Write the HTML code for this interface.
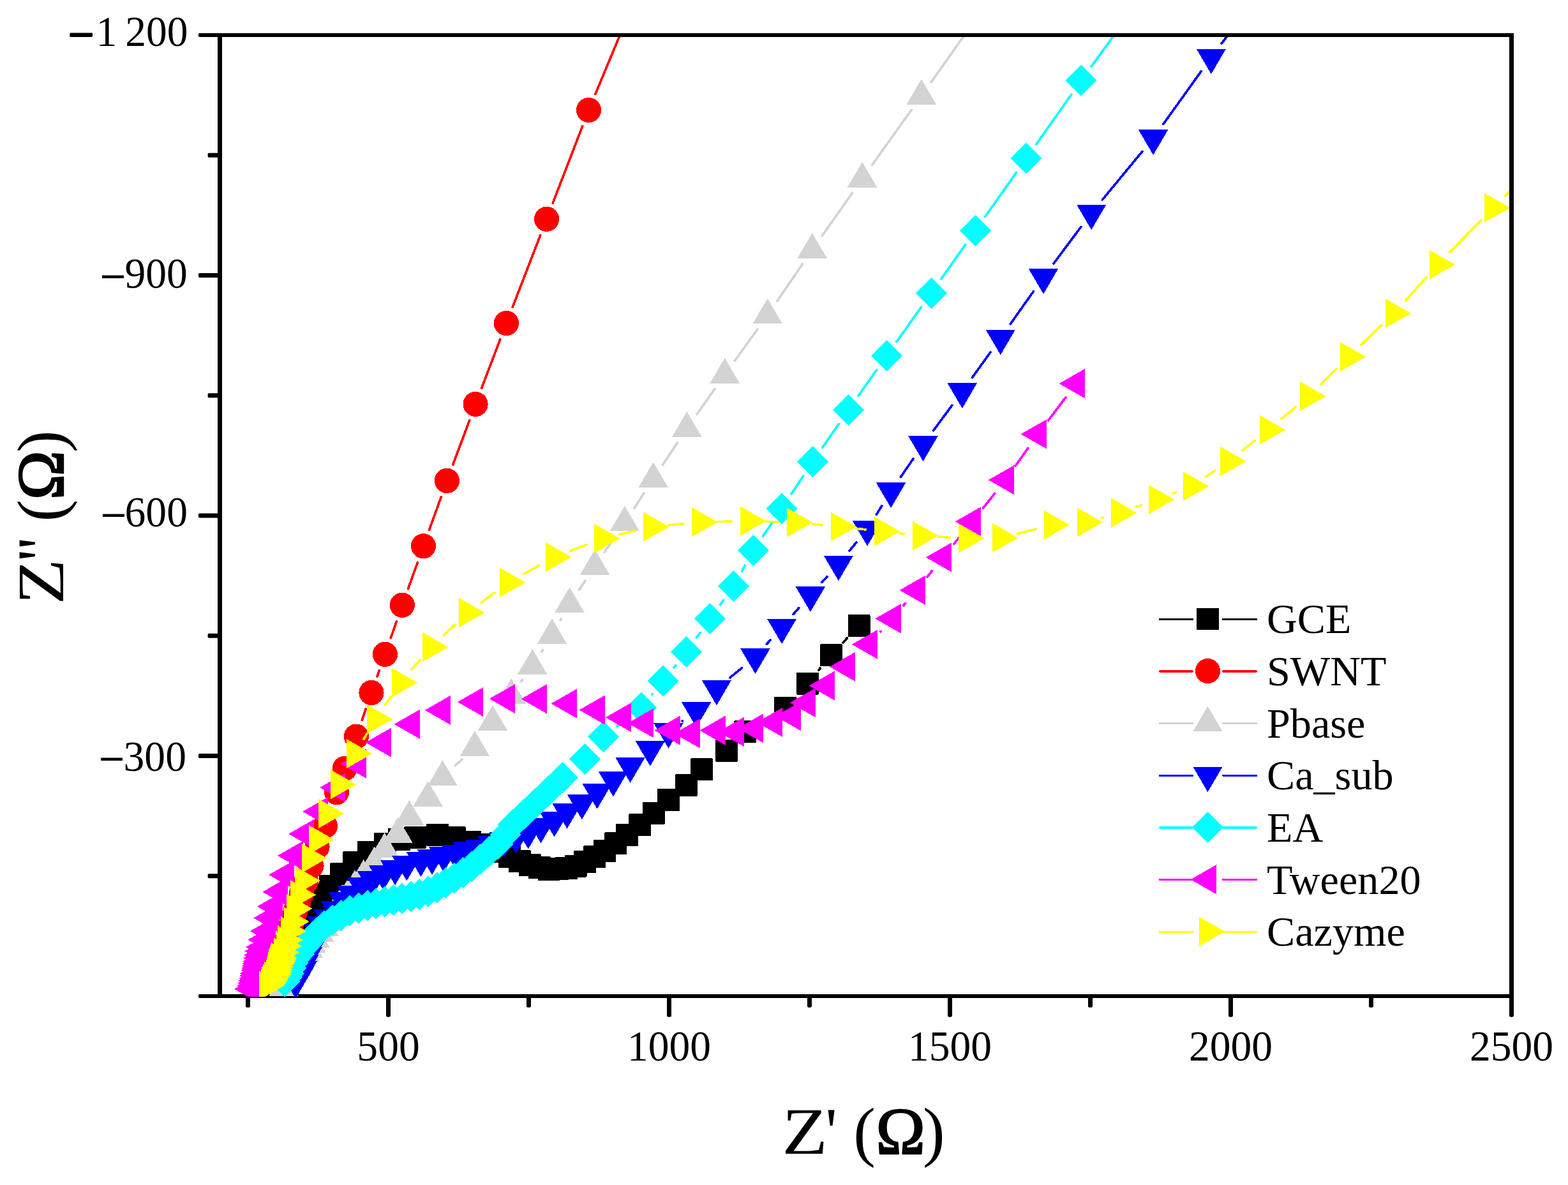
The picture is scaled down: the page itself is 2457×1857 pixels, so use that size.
<!DOCTYPE html>
<html lang="en"><head><meta charset="utf-8"><title>Nyquist plot</title>
<style>
html,body{margin:0;padding:0;background:#fff;}
body{width:2457px;height:1857px;overflow:hidden;}
svg{display:block;}
text{font-family:'Liberation Serif', serif;fill:#000;}
.tk{font-size:66.2px;}
.tt{font-size:104px;}
</style></head><body>
<svg width="2457" height="1857" viewBox="0 0 2457 1857">
<rect x="0" y="0" width="2457" height="1857" fill="#fff"/>
<defs><clipPath id="plot"><rect x="344.5" y="58.0" width="2024.0" height="1504.0"/></clipPath></defs>

<g><rect x="341.00" y="1558.00" width="2031.00" height="6.0" fill="#000"/>
<rect x="341.00" y="52.00" width="7.0" height="1512.00" fill="#000"/>
<rect x="311.00" y="52.00" width="33.50" height="6.0" rx="1.8" fill="#000"/>
<rect x="311.00" y="428.00" width="33.50" height="7.0" rx="1.8" fill="#000"/>
<rect x="311.00" y="804.50" width="33.50" height="7.0" rx="1.8" fill="#000"/>
<rect x="311.00" y="1181.00" width="33.50" height="7.0" rx="1.8" fill="#000"/>
<rect x="311.00" y="1558.00" width="33.50" height="6.0" rx="1.8" fill="#000"/>
<rect x="325.60" y="239.75" width="18.90" height="7.0" rx="1.8" fill="#000"/>
<rect x="325.60" y="616.25" width="18.90" height="7.0" rx="1.8" fill="#000"/>
<rect x="325.60" y="992.75" width="18.90" height="7.0" rx="1.8" fill="#000"/>
<rect x="325.60" y="1369.25" width="18.90" height="7.0" rx="1.8" fill="#000"/>
<rect x="605.00" y="1561.00" width="7.0" height="32.70" rx="2.6" fill="#000"/>
<rect x="1045.00" y="1561.00" width="7.0" height="32.70" rx="2.6" fill="#000"/>
<rect x="1485.00" y="1561.00" width="7.0" height="32.70" rx="2.6" fill="#000"/>
<rect x="1925.00" y="1561.00" width="7.0" height="32.70" rx="2.6" fill="#000"/>
<rect x="2365.00" y="1561.00" width="7.0" height="32.70" rx="2.6" fill="#000"/>
<rect x="385.00" y="1561.00" width="7.0" height="17.80" rx="2.6" fill="#000"/>
<rect x="825.00" y="1561.00" width="7.0" height="17.80" rx="2.6" fill="#000"/>
<rect x="1265.00" y="1561.00" width="7.0" height="17.80" rx="2.6" fill="#000"/>
<rect x="1705.00" y="1561.00" width="7.0" height="17.80" rx="2.6" fill="#000"/>
<rect x="2145.00" y="1561.00" width="7.0" height="17.80" rx="2.6" fill="#000"/></g>
<g clip-path="url(#plot)" shape-rendering="crispEdges">
<g>
<path d="M1190.6 1132.7L1207.2 1123.0M1282.8 1050.1L1285.3 1047.1M1321.1 1006.8L1327.5 1000.0" stroke="#000000" stroke-width="3.7" stroke-linecap="round" fill="none"/>
<rect x="422.5" y="1538.9" width="35.0" height="35.0" rx="1.5" fill="#000000"/>
<rect x="425.5" y="1527.9" width="35.0" height="35.0" rx="1.5" fill="#000000"/>
<rect x="428.5" y="1516.9" width="35.0" height="35.0" rx="1.5" fill="#000000"/>
<rect x="431.5" y="1505.9" width="35.0" height="35.0" rx="1.5" fill="#000000"/>
<rect x="435.5" y="1494.9" width="35.0" height="35.0" rx="1.5" fill="#000000"/>
<rect x="439.5" y="1483.9" width="35.0" height="35.0" rx="1.5" fill="#000000"/>
<rect x="443.5" y="1472.9" width="35.0" height="35.0" rx="1.5" fill="#000000"/>
<rect x="448.5" y="1460.9" width="35.0" height="35.0" rx="1.5" fill="#000000"/>
<rect x="453.5" y="1448.9" width="35.0" height="35.0" rx="1.5" fill="#000000"/>
<rect x="459.5" y="1435.9" width="35.0" height="35.0" rx="1.5" fill="#000000"/>
<rect x="465.5" y="1422.9" width="35.0" height="35.0" rx="1.5" fill="#000000"/>
<rect x="472.5" y="1409.9" width="35.0" height="35.0" rx="1.5" fill="#000000"/>
<rect x="480.5" y="1396.9" width="35.0" height="35.0" rx="1.5" fill="#000000"/>
<rect x="489.5" y="1383.9" width="35.0" height="35.0" rx="1.5" fill="#000000"/>
<rect x="500.0" y="1371.3" width="35.0" height="35.0" rx="1.5" fill="#000000"/>
<rect x="517.3" y="1352.0" width="35.0" height="35.0" rx="1.5" fill="#000000"/>
<rect x="537.3" y="1333.8" width="35.0" height="35.0" rx="1.5" fill="#000000"/>
<rect x="560.2" y="1317.9" width="35.0" height="35.0" rx="1.5" fill="#000000"/>
<rect x="586.1" y="1304.9" width="35.0" height="35.0" rx="1.5" fill="#000000"/>
<rect x="608.0" y="1298.1" width="35.0" height="35.0" rx="1.5" fill="#000000"/>
<rect x="633.4" y="1294.7" width="35.0" height="35.0" rx="1.5" fill="#000000"/>
<rect x="668.2" y="1290.9" width="35.0" height="35.0" rx="1.5" fill="#000000"/>
<rect x="695.0" y="1295.4" width="35.0" height="35.0" rx="1.5" fill="#000000"/>
<rect x="719.0" y="1301.9" width="35.0" height="35.0" rx="1.5" fill="#000000"/>
<rect x="734.5" y="1305.9" width="35.0" height="35.0" rx="1.5" fill="#000000"/>
<rect x="750.5" y="1311.4" width="35.0" height="35.0" rx="1.5" fill="#000000"/>
<rect x="765.5" y="1316.9" width="35.0" height="35.0" rx="1.5" fill="#000000"/>
<rect x="780.9" y="1325.2" width="35.0" height="35.0" rx="1.5" fill="#000000"/>
<rect x="797.0" y="1332.2" width="35.0" height="35.0" rx="1.5" fill="#000000"/>
<rect x="813.2" y="1338.4" width="35.0" height="35.0" rx="1.5" fill="#000000"/>
<rect x="828.0" y="1342.4" width="35.0" height="35.0" rx="1.5" fill="#000000"/>
<rect x="842.5" y="1345.2" width="35.0" height="35.0" rx="1.5" fill="#000000"/>
<rect x="856.1" y="1344.0" width="35.0" height="35.0" rx="1.5" fill="#000000"/>
<rect x="870.2" y="1342.9" width="35.0" height="35.0" rx="1.5" fill="#000000"/>
<rect x="884.5" y="1339.5" width="35.0" height="35.0" rx="1.5" fill="#000000"/>
<rect x="899.1" y="1333.1" width="35.0" height="35.0" rx="1.5" fill="#000000"/>
<rect x="914.1" y="1325.4" width="35.0" height="35.0" rx="1.5" fill="#000000"/>
<rect x="930.0" y="1316.1" width="35.0" height="35.0" rx="1.5" fill="#000000"/>
<rect x="947.0" y="1304.3" width="35.0" height="35.0" rx="1.5" fill="#000000"/>
<rect x="965.0" y="1291.1" width="35.0" height="35.0" rx="1.5" fill="#000000"/>
<rect x="985.0" y="1275.2" width="35.0" height="35.0" rx="1.5" fill="#000000"/>
<rect x="1007.0" y="1256.5" width="35.0" height="35.0" rx="1.5" fill="#000000"/>
<rect x="1030.0" y="1236.1" width="35.0" height="35.0" rx="1.5" fill="#000000"/>
<rect x="1057.7" y="1213.4" width="35.0" height="35.0" rx="1.5" fill="#000000"/>
<rect x="1082.0" y="1188.4" width="35.0" height="35.0" rx="1.5" fill="#000000"/>
<rect x="1120.9" y="1158.8" width="35.0" height="35.0" rx="1.5" fill="#000000"/>
<rect x="1149.9" y="1129.4" width="35.0" height="35.0" rx="1.5" fill="#000000"/>
<rect x="1212.9" y="1092.1" width="35.0" height="35.0" rx="1.5" fill="#000000"/>
<rect x="1248.0" y="1053.7" width="35.0" height="35.0" rx="1.5" fill="#000000"/>
<rect x="1285.1" y="1009.3" width="35.0" height="35.0" rx="1.5" fill="#000000"/>
<rect x="1328.5" y="963.3" width="35.0" height="35.0" rx="1.5" fill="#000000"/>
</g>
<g>
<path d="M518.2 1268.8L518.8 1267.2M567.2 1128.6L573.2 1111.0M591.0 1060.1L594.4 1050.7M612.3 999.8L621.4 973.8M639.4 922.9L654.4 881.2M672.6 830.4L691.3 778.7M709.8 728.0L735.7 658.7M754.7 608.2L783.8 531.7M803.2 481.3L846.8 368.5M866.3 318.1L912.8 197.6M932.9 147.5L991.3 7.3" stroke="#FF0000" stroke-width="3.7" stroke-linecap="round" fill="none"/>
<circle cx="435.5" cy="1533.0" r="19.6" fill="#FF0000"/>
<circle cx="438.0" cy="1523.0" r="19.6" fill="#FF0000"/>
<circle cx="440.5" cy="1513.0" r="19.6" fill="#FF0000"/>
<circle cx="443.0" cy="1503.0" r="19.6" fill="#FF0000"/>
<circle cx="445.5" cy="1493.0" r="19.6" fill="#FF0000"/>
<circle cx="448.0" cy="1483.0" r="19.6" fill="#FF0000"/>
<circle cx="450.5" cy="1473.0" r="19.6" fill="#FF0000"/>
<circle cx="453.0" cy="1463.0" r="19.6" fill="#FF0000"/>
<circle cx="456.0" cy="1452.0" r="19.6" fill="#FF0000"/>
<circle cx="459.5" cy="1440.0" r="19.6" fill="#FF0000"/>
<circle cx="463.0" cy="1428.0" r="19.6" fill="#FF0000"/>
<circle cx="467.5" cy="1415.0" r="19.6" fill="#FF0000"/>
<circle cx="472.5" cy="1400.0" r="19.6" fill="#FF0000"/>
<circle cx="479.5" cy="1381.8" r="19.6" fill="#FF0000"/>
<circle cx="488.0" cy="1356.8" r="19.6" fill="#FF0000"/>
<circle cx="497.0" cy="1327.3" r="19.6" fill="#FF0000"/>
<circle cx="509.5" cy="1294.3" r="19.6" fill="#FF0000"/>
<circle cx="527.5" cy="1241.7" r="19.6" fill="#FF0000"/>
<circle cx="540.2" cy="1204.3" r="19.6" fill="#FF0000"/>
<circle cx="558.4" cy="1154.1" r="19.6" fill="#FF0000"/>
<circle cx="582.0" cy="1085.5" r="19.6" fill="#FF0000"/>
<circle cx="603.4" cy="1025.3" r="19.6" fill="#FF0000"/>
<circle cx="630.3" cy="948.3" r="19.6" fill="#FF0000"/>
<circle cx="663.5" cy="855.8" r="19.6" fill="#FF0000"/>
<circle cx="700.4" cy="753.3" r="19.6" fill="#FF0000"/>
<circle cx="745.1" cy="633.4" r="19.6" fill="#FF0000"/>
<circle cx="793.4" cy="506.5" r="19.6" fill="#FF0000"/>
<circle cx="856.6" cy="343.3" r="19.6" fill="#FF0000"/>
<circle cx="922.5" cy="172.4" r="19.6" fill="#FF0000"/>
<circle cx="1001.7" cy="-17.6" r="19.6" fill="#FF0000"/>
</g>
<g>
<path d="M713.4 1199.6L724.1 1189.9M816.9 1067.7L818.6 1065.4M848.9 1020.8L850.4 1018.4M878.2 972.1L879.3 970.2M907.6 924.2L917.1 909.9M947.4 865.2L963.7 841.5M993.7 796.6L1008.9 773.2M1038.6 728.1L1061.4 693.9M1091.9 649.3L1120.1 609.4M1151.4 565.4L1187.0 515.9M1217.9 471.7L1257.5 413.8M1288.3 369.4L1335.5 302.4M1366.8 258.3L1428.1 172.4M1459.4 128.4L1534.4 22.4" stroke="#D3D3D3" stroke-width="3.7" stroke-linecap="round" fill="none"/>
<path d="M421.3 1561.2L467.7 1561.2L444.5 1521.6Z" fill="#D3D3D3"/>
<path d="M422.8 1558.2L469.2 1558.2L446.0 1518.6Z" fill="#D3D3D3"/>
<path d="M424.8 1554.7L471.2 1554.7L448.0 1515.1Z" fill="#D3D3D3"/>
<path d="M427.3 1550.2L473.7 1550.2L450.5 1510.6Z" fill="#D3D3D3"/>
<path d="M429.8 1545.2L476.2 1545.2L453.0 1505.6Z" fill="#D3D3D3"/>
<path d="M432.8 1540.2L479.2 1540.2L456.0 1500.6Z" fill="#D3D3D3"/>
<path d="M435.8 1534.7L482.2 1534.7L459.0 1495.1Z" fill="#D3D3D3"/>
<path d="M438.8 1529.2L485.2 1529.2L462.0 1489.6Z" fill="#D3D3D3"/>
<path d="M442.3 1523.2L488.7 1523.2L465.5 1483.6Z" fill="#D3D3D3"/>
<path d="M445.8 1517.2L492.2 1517.2L469.0 1477.6Z" fill="#D3D3D3"/>
<path d="M449.6 1511.3L496.0 1511.3L472.8 1471.7Z" fill="#D3D3D3"/>
<path d="M454.4 1506.7L500.8 1506.7L477.6 1467.1Z" fill="#D3D3D3"/>
<path d="M459.4 1500.8L505.8 1500.8L482.6 1461.2Z" fill="#D3D3D3"/>
<path d="M464.3 1493.0L510.7 1493.0L487.5 1453.4Z" fill="#D3D3D3"/>
<path d="M470.4 1485.1L516.8 1485.1L493.6 1445.5Z" fill="#D3D3D3"/>
<path d="M477.2 1476.2L523.6 1476.2L500.4 1436.6Z" fill="#D3D3D3"/>
<path d="M484.4 1466.7L530.8 1466.7L507.6 1427.1Z" fill="#D3D3D3"/>
<path d="M489.8 1459.2L536.2 1459.2L513.0 1419.6Z" fill="#D3D3D3"/>
<path d="M495.8 1450.7L542.2 1450.7L519.0 1411.1Z" fill="#D3D3D3"/>
<path d="M501.8 1442.7L548.2 1442.7L525.0 1403.1Z" fill="#D3D3D3"/>
<path d="M507.8 1434.7L554.2 1434.7L531.0 1395.1Z" fill="#D3D3D3"/>
<path d="M514.1 1426.7L560.5 1426.7L537.3 1387.1Z" fill="#D3D3D3"/>
<path d="M520.7 1418.8L567.1 1418.8L543.9 1379.2Z" fill="#D3D3D3"/>
<path d="M532.9 1403.0L579.3 1403.0L556.1 1363.4Z" fill="#D3D3D3"/>
<path d="M546.6 1386.4L593.0 1386.4L569.8 1346.8Z" fill="#D3D3D3"/>
<path d="M563.6 1365.9L610.0 1365.9L586.8 1326.3Z" fill="#D3D3D3"/>
<path d="M579.5 1344.3L625.9 1344.3L602.7 1304.7Z" fill="#D3D3D3"/>
<path d="M600.0 1320.5L646.4 1320.5L623.2 1280.9Z" fill="#D3D3D3"/>
<path d="M618.1 1293.7L664.5 1293.7L641.3 1254.1Z" fill="#D3D3D3"/>
<path d="M647.4 1263.6L693.8 1263.6L670.6 1224.0Z" fill="#D3D3D3"/>
<path d="M670.3 1231.0L716.7 1231.0L693.5 1191.4Z" fill="#D3D3D3"/>
<path d="M720.8 1184.9L767.2 1184.9L744.0 1145.3Z" fill="#D3D3D3"/>
<path d="M748.8 1144.8L795.2 1144.8L772.0 1105.2Z" fill="#D3D3D3"/>
<path d="M778.0 1102.8L824.4 1102.8L801.2 1063.2Z" fill="#D3D3D3"/>
<path d="M811.1 1056.7L857.5 1056.7L834.3 1017.1Z" fill="#D3D3D3"/>
<path d="M841.8 1008.9L888.2 1008.9L865.0 969.3Z" fill="#D3D3D3"/>
<path d="M869.3 959.8L915.7 959.8L892.5 920.2Z" fill="#D3D3D3"/>
<path d="M909.0 900.7L955.4 900.7L932.2 861.1Z" fill="#D3D3D3"/>
<path d="M955.7 832.4L1002.1 832.4L978.9 792.8Z" fill="#D3D3D3"/>
<path d="M1000.5 763.8L1046.9 763.8L1023.7 724.2Z" fill="#D3D3D3"/>
<path d="M1053.1 684.6L1099.5 684.6L1076.3 645.0Z" fill="#D3D3D3"/>
<path d="M1112.5 600.5L1158.9 600.5L1135.7 560.9Z" fill="#D3D3D3"/>
<path d="M1179.5 507.2L1225.9 507.2L1202.7 467.6Z" fill="#D3D3D3"/>
<path d="M1249.5 404.7L1295.9 404.7L1272.7 365.1Z" fill="#D3D3D3"/>
<path d="M1327.9 293.5L1374.3 293.5L1351.1 253.9Z" fill="#D3D3D3"/>
<path d="M1420.6 163.6L1467.0 163.6L1443.8 124.0Z" fill="#D3D3D3"/>
<path d="M1526.8 13.6L1573.2 13.6L1550.0 -26.0Z" fill="#D3D3D3"/>
</g>
<g>
<path d="M1069.1 1130.3L1069.6 1129.8M1143.8 1061.9L1162.6 1046.7M1201.4 1009.4L1207.2 1002.9M1243.1 962.6L1251.9 952.6M1288.0 912.5L1295.8 903.8M1331.1 863.0L1341.8 850.1M1373.3 806.4L1381.8 792.5M1411.4 747.4L1431.2 718.8M1462.5 674.9L1491.8 635.3M1523.5 591.6L1552.1 551.8M1583.3 507.7L1619.5 456.5M1651.2 412.8L1694.0 355.4M1727.4 313.0L1789.9 237.4M1822.8 194.6L1882.2 111.7M1914.2 68.2L1987.7 -28.5" stroke="#0000FF" stroke-width="3.7" stroke-linecap="round" fill="none"/>
<path d="M440.0 1525.3L486.4 1525.3L463.2 1564.9Z" fill="#0000FF"/>
<path d="M442.2 1521.5L488.6 1521.5L465.4 1561.1Z" fill="#0000FF"/>
<path d="M445.0 1516.3L491.4 1516.3L468.2 1555.9Z" fill="#0000FF"/>
<path d="M447.8 1511.0L494.2 1511.0L471.0 1550.6Z" fill="#0000FF"/>
<path d="M450.6 1505.8L497.0 1505.8L473.8 1545.4Z" fill="#0000FF"/>
<path d="M453.3 1495.8L499.7 1495.8L476.5 1535.4Z" fill="#0000FF"/>
<path d="M458.6 1484.1L505.0 1484.1L481.8 1523.7Z" fill="#0000FF"/>
<path d="M462.8 1473.8L509.2 1473.8L486.0 1513.4Z" fill="#0000FF"/>
<path d="M467.8 1461.8L514.2 1461.8L491.0 1501.4Z" fill="#0000FF"/>
<path d="M475.4 1447.7L521.8 1447.7L498.6 1487.3Z" fill="#0000FF"/>
<path d="M481.8 1436.3L528.2 1436.3L505.0 1475.9Z" fill="#0000FF"/>
<path d="M491.3 1424.5L537.7 1424.5L514.5 1464.1Z" fill="#0000FF"/>
<path d="M502.3 1411.8L548.7 1411.8L525.5 1451.4Z" fill="#0000FF"/>
<path d="M515.2 1398.2L561.6 1398.2L538.4 1437.8Z" fill="#0000FF"/>
<path d="M528.2 1387.5L574.6 1387.5L551.4 1427.1Z" fill="#0000FF"/>
<path d="M544.1 1375.4L590.5 1375.4L567.3 1415.0Z" fill="#0000FF"/>
<path d="M560.0 1365.4L606.4 1365.4L583.2 1405.0Z" fill="#0000FF"/>
<path d="M577.7 1355.7L624.1 1355.7L600.9 1395.3Z" fill="#0000FF"/>
<path d="M595.9 1347.7L642.3 1347.7L619.1 1387.3Z" fill="#0000FF"/>
<path d="M614.1 1340.9L660.5 1340.9L637.3 1380.5Z" fill="#0000FF"/>
<path d="M636.3 1334.5L682.7 1334.5L659.5 1374.1Z" fill="#0000FF"/>
<path d="M653.8 1331.3L700.2 1331.3L677.0 1370.9Z" fill="#0000FF"/>
<path d="M672.0 1327.3L718.4 1327.3L695.2 1366.9Z" fill="#0000FF"/>
<path d="M691.3 1323.8L737.7 1323.8L714.5 1363.4Z" fill="#0000FF"/>
<path d="M709.5 1319.3L755.9 1319.3L732.7 1358.9Z" fill="#0000FF"/>
<path d="M728.8 1315.9L775.2 1315.9L752.0 1355.5Z" fill="#0000FF"/>
<path d="M748.2 1310.2L794.6 1310.2L771.4 1349.8Z" fill="#0000FF"/>
<path d="M766.8 1304.3L813.2 1304.3L790.0 1343.9Z" fill="#0000FF"/>
<path d="M785.2 1298.4L831.6 1298.4L808.4 1338.0Z" fill="#0000FF"/>
<path d="M804.5 1290.9L850.9 1290.9L827.7 1330.5Z" fill="#0000FF"/>
<path d="M824.3 1281.8L870.7 1281.8L847.5 1321.4Z" fill="#0000FF"/>
<path d="M845.4 1272.0L891.8 1272.0L868.6 1311.6Z" fill="#0000FF"/>
<path d="M865.4 1259.1L911.8 1259.1L888.6 1298.7Z" fill="#0000FF"/>
<path d="M888.6 1244.8L935.0 1244.8L911.8 1284.4Z" fill="#0000FF"/>
<path d="M912.5 1228.1L958.9 1228.1L935.7 1267.7Z" fill="#0000FF"/>
<path d="M937.7 1208.8L984.1 1208.8L960.9 1248.4Z" fill="#0000FF"/>
<path d="M964.4 1187.1L1010.8 1187.1L987.6 1226.7Z" fill="#0000FF"/>
<path d="M995.6 1161.0L1042.0 1161.0L1018.8 1200.6Z" fill="#0000FF"/>
<path d="M1024.3 1133.3L1070.7 1133.3L1047.5 1172.9Z" fill="#0000FF"/>
<path d="M1068.0 1100.4L1114.4 1100.4L1091.2 1140.0Z" fill="#0000FF"/>
<path d="M1099.7 1065.8L1146.1 1065.8L1122.9 1105.4Z" fill="#0000FF"/>
<path d="M1160.3 1016.4L1206.7 1016.4L1183.5 1056.0Z" fill="#0000FF"/>
<path d="M1201.9 969.5L1248.3 969.5L1225.1 1009.1Z" fill="#0000FF"/>
<path d="M1246.7 919.3L1293.1 919.3L1269.9 958.9Z" fill="#0000FF"/>
<path d="M1290.7 870.6L1337.1 870.6L1313.9 910.2Z" fill="#0000FF"/>
<path d="M1335.8 816.1L1382.2 816.1L1359.0 855.7Z" fill="#0000FF"/>
<path d="M1372.9 756.4L1419.3 756.4L1396.1 796.0Z" fill="#0000FF"/>
<path d="M1423.3 683.4L1469.7 683.4L1446.5 723.0Z" fill="#0000FF"/>
<path d="M1484.6 600.4L1531.0 600.4L1507.8 640.0Z" fill="#0000FF"/>
<path d="M1544.6 516.6L1591.0 516.6L1567.8 556.2Z" fill="#0000FF"/>
<path d="M1611.8 421.2L1658.2 421.2L1635.0 460.8Z" fill="#0000FF"/>
<path d="M1687.0 320.6L1733.4 320.6L1710.2 360.2Z" fill="#0000FF"/>
<path d="M1783.9 203.4L1830.3 203.4L1807.1 243.0Z" fill="#0000FF"/>
<path d="M1874.7 76.5L1921.1 76.5L1897.9 116.1Z" fill="#0000FF"/>
<path d="M1980.8 -63.2L2027.2 -63.2L2004.0 -23.6Z" fill="#0000FF"/>
</g>
<g>
<path d="M967.0 1138.2L983.4 1125.7M1021.9 1088.4L1022.2 1088.0M1056.0 1045.9L1058.7 1042.6M1091.2 999.5L1096.9 991.7M1128.4 947.8L1133.7 940.6M1162.5 895.1L1167.5 886.1M1195.6 840.1L1209.9 819.1M1239.9 774.2L1258.6 746.0M1288.8 701.3L1314.1 664.6M1345.0 620.3L1373.7 579.6M1405.0 535.5L1443.6 481.3M1474.8 437.2L1512.7 383.5M1543.8 339.4L1592.6 270.3M1623.8 226.2L1678.6 148.4M1710.0 104.4L1787.2 -2.1" stroke="#00FFFF" stroke-width="3.7" stroke-linecap="round" fill="none"/>
<path d="M421.5 1538.0L446.0 1513.5L470.5 1538.0L446.0 1562.5Z" fill="#00FFFF"/>
<path d="M424.8 1531.5L449.3 1507.0L473.8 1531.5L449.3 1556.0Z" fill="#00FFFF"/>
<path d="M428.1 1525.2L452.6 1500.7L477.1 1525.2L452.6 1549.7Z" fill="#00FFFF"/>
<path d="M431.5 1517.0L456.0 1492.5L480.5 1517.0L456.0 1541.5Z" fill="#00FFFF"/>
<path d="M434.8 1508.9L459.3 1484.4L483.8 1508.9L459.3 1533.4Z" fill="#00FFFF"/>
<path d="M438.7 1502.2L463.2 1477.7L487.7 1502.2L463.2 1526.7Z" fill="#00FFFF"/>
<path d="M443.5 1495.5L468.0 1471.0L492.5 1495.5L468.0 1520.0Z" fill="#00FFFF"/>
<path d="M448.2 1488.8L472.7 1464.3L497.2 1488.8L472.7 1513.3Z" fill="#00FFFF"/>
<path d="M452.0 1484.0L476.5 1459.5L501.0 1484.0L476.5 1508.5Z" fill="#00FFFF"/>
<path d="M455.9 1479.2L480.4 1454.7L504.9 1479.2L480.4 1503.7Z" fill="#00FFFF"/>
<path d="M460.7 1473.5L485.2 1449.0L509.7 1473.5L485.2 1498.0Z" fill="#00FFFF"/>
<path d="M472.5 1461.4L497.0 1436.9L521.5 1461.4L497.0 1485.9Z" fill="#00FFFF"/>
<path d="M483.9 1451.1L508.4 1426.6L532.9 1451.1L508.4 1475.6Z" fill="#00FFFF"/>
<path d="M496.4 1442.0L520.9 1417.5L545.4 1442.0L520.9 1466.5Z" fill="#00FFFF"/>
<path d="M510.0 1434.1L534.5 1409.6L559.0 1434.1L534.5 1458.6Z" fill="#00FFFF"/>
<path d="M523.7 1427.3L548.2 1402.8L572.7 1427.3L548.2 1451.8Z" fill="#00FFFF"/>
<path d="M537.3 1422.8L561.8 1398.3L586.3 1422.8L561.8 1447.3Z" fill="#00FFFF"/>
<path d="M551.0 1419.0L575.5 1394.5L600.0 1419.0L575.5 1443.5Z" fill="#00FFFF"/>
<path d="M564.6 1416.0L589.1 1391.5L613.6 1416.0L589.1 1440.5Z" fill="#00FFFF"/>
<path d="M578.2 1412.9L602.7 1388.4L627.2 1412.9L602.7 1437.4Z" fill="#00FFFF"/>
<path d="M591.9 1410.7L616.4 1386.2L640.9 1410.7L616.4 1435.2Z" fill="#00FFFF"/>
<path d="M605.5 1407.9L630.0 1383.4L654.5 1407.9L630.0 1432.4Z" fill="#00FFFF"/>
<path d="M619.1 1405.0L643.6 1380.5L668.1 1405.0L643.6 1429.5Z" fill="#00FFFF"/>
<path d="M632.8 1401.4L657.3 1376.9L681.8 1401.4L657.3 1425.9Z" fill="#00FFFF"/>
<path d="M646.4 1397.0L670.9 1372.5L695.4 1397.0L670.9 1421.5Z" fill="#00FFFF"/>
<path d="M660.0 1391.0L684.5 1366.5L709.0 1391.0L684.5 1415.5Z" fill="#00FFFF"/>
<path d="M673.7 1383.6L698.2 1359.1L722.7 1383.6L698.2 1408.1Z" fill="#00FFFF"/>
<path d="M687.3 1376.1L711.8 1351.6L736.3 1376.1L711.8 1400.6Z" fill="#00FFFF"/>
<path d="M701.0 1367.7L725.5 1343.2L750.0 1367.7L725.5 1392.2Z" fill="#00FFFF"/>
<path d="M714.6 1358.0L739.1 1333.5L763.6 1358.0L739.1 1382.5Z" fill="#00FFFF"/>
<path d="M728.2 1346.6L752.7 1322.1L777.2 1346.6L752.7 1371.1Z" fill="#00FFFF"/>
<path d="M741.9 1334.8L766.4 1310.3L790.9 1334.8L766.4 1359.3Z" fill="#00FFFF"/>
<path d="M755.5 1322.7L780.0 1298.2L804.5 1322.7L780.0 1347.2Z" fill="#00FFFF"/>
<path d="M767.0 1308.0L791.5 1283.5L816.0 1308.0L791.5 1332.5Z" fill="#00FFFF"/>
<path d="M779.4 1292.0L803.9 1267.5L828.4 1292.0L803.9 1316.5Z" fill="#00FFFF"/>
<path d="M796.4 1276.1L820.9 1251.6L845.4 1276.1L820.9 1300.6Z" fill="#00FFFF"/>
<path d="M814.6 1259.1L839.1 1234.6L863.6 1259.1L839.1 1283.6Z" fill="#00FFFF"/>
<path d="M835.0 1239.8L859.5 1215.3L884.0 1239.8L859.5 1264.3Z" fill="#00FFFF"/>
<path d="M856.8 1218.6L881.3 1194.1L905.8 1218.6L881.3 1243.1Z" fill="#00FFFF"/>
<path d="M892.0 1189.2L916.5 1164.7L941.0 1189.2L916.5 1213.7Z" fill="#00FFFF"/>
<path d="M921.0 1154.5L945.5 1130.0L970.0 1154.5L945.5 1179.0Z" fill="#00FFFF"/>
<path d="M980.4 1109.4L1004.9 1084.9L1029.4 1109.4L1004.9 1133.9Z" fill="#00FFFF"/>
<path d="M1014.7 1067.0L1039.2 1042.5L1063.7 1067.0L1039.2 1091.5Z" fill="#00FFFF"/>
<path d="M1051.0 1021.5L1075.5 997.0L1100.0 1021.5L1075.5 1046.0Z" fill="#00FFFF"/>
<path d="M1088.1 969.7L1112.6 945.2L1137.1 969.7L1112.6 994.2Z" fill="#00FFFF"/>
<path d="M1125.0 918.7L1149.5 894.2L1174.0 918.7L1149.5 943.2Z" fill="#00FFFF"/>
<path d="M1156.0 862.5L1180.5 838.0L1205.0 862.5L1180.5 887.0Z" fill="#00FFFF"/>
<path d="M1200.5 796.7L1225.0 772.2L1249.5 796.7L1225.0 821.2Z" fill="#00FFFF"/>
<path d="M1249.0 723.5L1273.5 699.0L1298.0 723.5L1273.5 748.0Z" fill="#00FFFF"/>
<path d="M1304.9 642.4L1329.4 617.9L1353.9 642.4L1329.4 666.9Z" fill="#00FFFF"/>
<path d="M1364.8 557.5L1389.3 533.0L1413.8 557.5L1389.3 582.0Z" fill="#00FFFF"/>
<path d="M1434.8 459.3L1459.3 434.8L1483.8 459.3L1459.3 483.8Z" fill="#00FFFF"/>
<path d="M1503.7 361.4L1528.2 336.9L1552.7 361.4L1528.2 385.9Z" fill="#00FFFF"/>
<path d="M1583.7 248.3L1608.2 223.8L1632.7 248.3L1608.2 272.8Z" fill="#00FFFF"/>
<path d="M1669.7 126.3L1694.2 101.8L1718.7 126.3L1694.2 150.8Z" fill="#00FFFF"/>
<path d="M1778.5 -24.0L1803.0 -48.5L1827.5 -24.0L1803.0 0.5Z" fill="#00FFFF"/>
</g>
<g>
<path d="M1379.7 989.8L1380.0 989.4M1415.7 948.9L1418.8 945.4M1453.2 903.8L1460.7 894.5M1494.6 852.5L1506.5 838.2M1540.5 796.2L1558.7 773.3M1591.2 730.1L1610.8 702.4M1642.7 658.8L1670.0 622.6" stroke="#FF00FF" stroke-width="3.7" stroke-linecap="round" fill="none"/>
<path d="M407.2 1526.9L407.2 1572.9L367.0 1549.9Z" fill="#FF00FF"/>
<path d="M411.2 1521.8L411.2 1567.8L371.0 1544.8Z" fill="#FF00FF"/>
<path d="M412.3 1517.5L412.3 1563.5L372.1 1540.5Z" fill="#FF00FF"/>
<path d="M413.4 1513.9L413.4 1559.9L373.2 1536.9Z" fill="#FF00FF"/>
<path d="M414.5 1510.3L414.5 1556.3L374.3 1533.3Z" fill="#FF00FF"/>
<path d="M415.6 1505.9L415.6 1551.9L375.4 1528.9Z" fill="#FF00FF"/>
<path d="M416.3 1502.3L416.3 1548.3L376.1 1525.3Z" fill="#FF00FF"/>
<path d="M417.4 1497.3L417.4 1543.3L377.2 1520.3Z" fill="#FF00FF"/>
<path d="M418.4 1494.0L418.4 1540.0L378.2 1517.0Z" fill="#FF00FF"/>
<path d="M419.2 1490.7L419.2 1536.7L379.0 1513.7Z" fill="#FF00FF"/>
<path d="M419.8 1487.0L419.8 1533.0L379.6 1510.0Z" fill="#FF00FF"/>
<path d="M420.3 1483.5L420.3 1529.5L380.1 1506.5Z" fill="#FF00FF"/>
<path d="M421.3 1478.5L421.3 1524.5L381.1 1501.5Z" fill="#FF00FF"/>
<path d="M422.3 1473.6L422.3 1519.6L382.1 1496.6Z" fill="#FF00FF"/>
<path d="M423.7 1467.5L423.7 1513.5L383.5 1490.5Z" fill="#FF00FF"/>
<path d="M425.2 1461.1L425.2 1507.1L385.0 1484.1Z" fill="#FF00FF"/>
<path d="M428.4 1449.7L428.4 1495.7L388.2 1472.7Z" fill="#FF00FF"/>
<path d="M432.0 1436.1L432.0 1482.1L391.8 1459.1Z" fill="#FF00FF"/>
<path d="M437.5 1415.6L437.5 1461.6L397.3 1438.6Z" fill="#FF00FF"/>
<path d="M443.2 1397.5L443.2 1443.5L403.0 1420.5Z" fill="#FF00FF"/>
<path d="M451.4 1374.7L451.4 1420.7L411.2 1397.7Z" fill="#FF00FF"/>
<path d="M461.4 1347.9L461.4 1393.9L421.2 1370.9Z" fill="#FF00FF"/>
<path d="M475.0 1317.9L475.0 1363.9L434.8 1340.9Z" fill="#FF00FF"/>
<path d="M492.3 1283.8L492.3 1329.8L452.1 1306.8Z" fill="#FF00FF"/>
<path d="M514.3 1248.8L514.3 1294.8L474.1 1271.8Z" fill="#FF00FF"/>
<path d="M541.4 1211.1L541.4 1257.1L501.2 1234.1Z" fill="#FF00FF"/>
<path d="M573.7 1173.7L573.7 1219.7L533.5 1196.7Z" fill="#FF00FF"/>
<path d="M613.0 1140.6L613.0 1186.6L572.8 1163.6Z" fill="#FF00FF"/>
<path d="M657.7 1111.9L657.7 1157.9L617.5 1134.9Z" fill="#FF00FF"/>
<path d="M706.0 1089.9L706.0 1135.9L665.8 1112.9Z" fill="#FF00FF"/>
<path d="M757.1 1077.1L757.1 1123.1L716.9 1100.1Z" fill="#FF00FF"/>
<path d="M807.0 1072.0L807.0 1118.0L766.8 1095.0Z" fill="#FF00FF"/>
<path d="M856.8 1072.3L856.8 1118.3L816.6 1095.3Z" fill="#FF00FF"/>
<path d="M903.8 1079.6L903.8 1125.6L863.6 1102.6Z" fill="#FF00FF"/>
<path d="M947.8 1089.6L947.8 1135.6L907.6 1112.6Z" fill="#FF00FF"/>
<path d="M989.0 1101.3L989.0 1147.3L948.8 1124.3Z" fill="#FF00FF"/>
<path d="M1023.8 1110.2L1023.8 1156.2L983.6 1133.2Z" fill="#FF00FF"/>
<path d="M1065.8 1121.6L1065.8 1167.6L1025.6 1144.6Z" fill="#FF00FF"/>
<path d="M1096.7 1126.5L1096.7 1172.5L1056.5 1149.5Z" fill="#FF00FF"/>
<path d="M1136.6 1121.6L1136.6 1167.6L1096.4 1144.6Z" fill="#FF00FF"/>
<path d="M1165.7 1123.8L1165.7 1169.8L1125.5 1146.8Z" fill="#FF00FF"/>
<path d="M1196.1 1118.2L1196.1 1164.2L1155.9 1141.2Z" fill="#FF00FF"/>
<path d="M1226.1 1108.9L1226.1 1154.9L1185.9 1131.9Z" fill="#FF00FF"/>
<path d="M1255.1 1099.4L1255.1 1145.4L1214.9 1122.4Z" fill="#FF00FF"/>
<path d="M1277.9 1078.2L1277.9 1124.2L1237.7 1101.2Z" fill="#FF00FF"/>
<path d="M1307.7 1051.6L1307.7 1097.6L1267.5 1074.6Z" fill="#FF00FF"/>
<path d="M1340.0 1021.8L1340.0 1067.8L1299.8 1044.8Z" fill="#FF00FF"/>
<path d="M1375.0 986.8L1375.0 1032.8L1334.8 1009.8Z" fill="#FF00FF"/>
<path d="M1411.5 946.4L1411.5 992.4L1371.3 969.4Z" fill="#FF00FF"/>
<path d="M1449.8 901.9L1449.8 947.9L1409.6 924.9Z" fill="#FF00FF"/>
<path d="M1490.9 850.4L1490.9 896.4L1450.7 873.4Z" fill="#FF00FF"/>
<path d="M1537.0 794.3L1537.0 840.3L1496.8 817.3Z" fill="#FF00FF"/>
<path d="M1589.0 729.2L1589.0 775.2L1548.8 752.2Z" fill="#FF00FF"/>
<path d="M1639.8 657.3L1639.8 703.3L1599.6 680.3Z" fill="#FF00FF"/>
<path d="M1699.7 578.1L1699.7 624.1L1659.5 601.1Z" fill="#FF00FF"/>
</g>
<g>
<path d="M570.2 1158.0L574.7 1150.2M603.7 1104.7L612.3 1092.1M645.1 1049.3L658.0 1034.4M695.3 995.4L713.0 978.7M754.4 944.1L775.0 928.8M820.3 899.6L845.0 886.0M893.8 863.2L919.3 853.5M970.8 837.5L995.2 831.7M1048.4 822.8L1070.8 820.7M1124.7 817.5L1146.6 817.1M1200.6 817.3L1219.4 817.9M1273.3 821.3L1288.4 822.8M1342.1 828.3L1356.5 829.9M1410.1 835.8L1416.5 836.5M1470.3 841.0L1488.7 842.1M1594.8 836.3L1622.9 829.2M1727.0 811.3L1728.7 810.8M1780.1 794.5L1787.9 791.7M1838.5 773.0L1842.3 771.6M1889.9 747.0L1903.4 737.9M1946.9 706.0L1966.3 690.5M2008.1 656.3L2029.9 638.2M2069.9 602.0L2094.2 578.0M2133.0 540.4L2164.8 509.7M2202.4 470.9L2235.1 434.7M2272.0 395.2L2320.7 345.0M2358.8 306.7L2415.7 250.9" stroke="#FFFF00" stroke-width="3.7" stroke-linecap="round" fill="none"/>
<path d="M406.0 1521.3L406.0 1567.3L446.2 1544.3Z" fill="#FFFF00"/>
<path d="M408.6 1518.1L408.6 1564.1L448.8 1541.1Z" fill="#FFFF00"/>
<path d="M410.4 1514.5L410.4 1560.5L450.6 1537.5Z" fill="#FFFF00"/>
<path d="M412.2 1510.9L412.2 1556.9L452.4 1533.9Z" fill="#FFFF00"/>
<path d="M414.4 1507.2L414.4 1553.2L454.6 1530.2Z" fill="#FFFF00"/>
<path d="M416.6 1503.8L416.6 1549.8L456.8 1526.8Z" fill="#FFFF00"/>
<path d="M417.6 1500.0L417.6 1546.0L457.8 1523.0Z" fill="#FFFF00"/>
<path d="M418.5 1496.4L418.5 1542.4L458.7 1519.4Z" fill="#FFFF00"/>
<path d="M419.7 1492.0L419.7 1538.0L459.9 1515.0Z" fill="#FFFF00"/>
<path d="M420.9 1487.8L420.9 1533.8L461.1 1510.8Z" fill="#FFFF00"/>
<path d="M422.1 1485.3L422.1 1531.3L462.3 1508.3Z" fill="#FFFF00"/>
<path d="M423.3 1483.0L423.3 1529.0L463.5 1506.0Z" fill="#FFFF00"/>
<path d="M424.3 1480.0L424.3 1526.0L464.5 1503.0Z" fill="#FFFF00"/>
<path d="M425.2 1477.3L425.2 1523.3L465.4 1500.3Z" fill="#FFFF00"/>
<path d="M429.0 1469.6L429.0 1515.6L469.2 1492.6Z" fill="#FFFF00"/>
<path d="M432.8 1459.6L432.8 1505.6L473.0 1482.6Z" fill="#FFFF00"/>
<path d="M434.7 1450.0L434.7 1496.0L474.9 1473.0Z" fill="#FFFF00"/>
<path d="M440.0 1436.1L440.0 1482.1L480.2 1459.1Z" fill="#FFFF00"/>
<path d="M444.6 1421.3L444.6 1467.3L484.8 1444.3Z" fill="#FFFF00"/>
<path d="M449.1 1400.9L449.1 1446.9L489.3 1423.9Z" fill="#FFFF00"/>
<path d="M454.8 1379.3L454.8 1425.3L495.0 1402.3Z" fill="#FFFF00"/>
<path d="M461.6 1357.0L461.6 1403.0L501.8 1380.0Z" fill="#FFFF00"/>
<path d="M472.5 1322.0L472.5 1368.0L512.7 1345.0Z" fill="#FFFF00"/>
<path d="M483.6 1292.9L483.6 1338.9L523.8 1315.9Z" fill="#FFFF00"/>
<path d="M499.0 1252.0L499.0 1298.0L539.2 1275.0Z" fill="#FFFF00"/>
<path d="M518.2 1206.3L518.2 1252.3L558.4 1229.3Z" fill="#FFFF00"/>
<path d="M543.0 1158.2L543.0 1204.2L583.2 1181.2Z" fill="#FFFF00"/>
<path d="M575.1 1104.0L575.1 1150.0L615.3 1127.0Z" fill="#FFFF00"/>
<path d="M614.1 1046.8L614.1 1092.8L654.3 1069.8Z" fill="#FFFF00"/>
<path d="M662.2 990.9L662.2 1036.9L702.4 1013.9Z" fill="#FFFF00"/>
<path d="M719.3 937.2L719.3 983.2L759.5 960.2Z" fill="#FFFF00"/>
<path d="M783.3 889.7L783.3 935.7L823.5 912.7Z" fill="#FFFF00"/>
<path d="M855.2 849.9L855.2 895.9L895.4 872.9Z" fill="#FFFF00"/>
<path d="M931.1 820.8L931.1 866.8L971.3 843.8Z" fill="#FFFF00"/>
<path d="M1008.1 802.4L1008.1 848.4L1048.3 825.4Z" fill="#FFFF00"/>
<path d="M1084.3 795.1L1084.3 841.1L1124.5 818.1Z" fill="#FFFF00"/>
<path d="M1160.2 793.5L1160.2 839.5L1200.4 816.5Z" fill="#FFFF00"/>
<path d="M1233.0 795.7L1233.0 841.7L1273.2 818.7Z" fill="#FFFF00"/>
<path d="M1301.9 802.4L1301.9 848.4L1342.1 825.4Z" fill="#FFFF00"/>
<path d="M1369.9 809.8L1369.9 855.8L1410.1 832.8Z" fill="#FFFF00"/>
<path d="M1429.9 816.5L1429.9 862.5L1470.1 839.5Z" fill="#FFFF00"/>
<path d="M1502.3 820.6L1502.3 866.6L1542.5 843.6Z" fill="#FFFF00"/>
<path d="M1555.2 819.8L1555.2 865.8L1595.4 842.8Z" fill="#FFFF00"/>
<path d="M1635.7 799.7L1635.7 845.7L1675.9 822.7Z" fill="#FFFF00"/>
<path d="M1687.6 795.5L1687.6 841.5L1727.8 818.5Z" fill="#FFFF00"/>
<path d="M1741.3 780.6L1741.3 826.6L1781.5 803.6Z" fill="#FFFF00"/>
<path d="M1799.9 759.6L1799.9 805.6L1840.1 782.6Z" fill="#FFFF00"/>
<path d="M1854.1 739.0L1854.1 785.0L1894.3 762.0Z" fill="#FFFF00"/>
<path d="M1912.4 699.9L1912.4 745.9L1952.6 722.9Z" fill="#FFFF00"/>
<path d="M1974.0 650.6L1974.0 696.6L2014.2 673.6Z" fill="#FFFF00"/>
<path d="M2037.2 597.9L2037.2 643.9L2077.4 620.9Z" fill="#FFFF00"/>
<path d="M2100.1 536.1L2100.1 582.1L2140.3 559.1Z" fill="#FFFF00"/>
<path d="M2170.9 468.0L2170.9 514.0L2211.1 491.0Z" fill="#FFFF00"/>
<path d="M2239.8 391.6L2239.8 437.6L2280.0 414.6Z" fill="#FFFF00"/>
<path d="M2326.1 302.6L2326.1 348.6L2366.3 325.6Z" fill="#FFFF00"/>
<path d="M2421.6 209.0L2421.6 255.0L2461.8 232.0Z" fill="#FFFF00"/>
</g>
</g>
<rect x="341.00" y="52.00" width="2031.00" height="6.0" fill="#000"/>
<rect x="2365.00" y="52.00" width="7.0" height="1512.00" fill="#000"/>
<text class="tk" transform="translate(608.5 1661.9) scale(0.99 1.022)" text-anchor="middle">500</text>
<text class="tk" transform="translate(1048.5 1661.9) scale(0.99 1.022)" text-anchor="middle">1000</text>
<text class="tk" transform="translate(1488.5 1661.9) scale(0.99 1.022)" text-anchor="middle">1500</text>
<text class="tk" transform="translate(1928.5 1661.9) scale(0.99 1.022)" text-anchor="middle">2000</text>
<text class="tk" transform="translate(2368.5 1661.9) scale(0.99 1.022)" text-anchor="middle">2500</text>
<text class="tk" transform="translate(294.6 72.3) scale(0.99 1.022)" text-anchor="end"><tspan x="-149.0" y="6.3" font-size="71.7px" stroke="#000" stroke-width="2.8" stroke-linejoin="round">−</tspan><tspan x="0" y="0">1 200</tspan></text>
<text class="tk" transform="translate(293.7 451.3) scale(0.99 1.022)" text-anchor="end"><tspan x="-97.9" y="6.3" font-size="71.7px" stroke="#000" stroke-width="1.0" stroke-linejoin="round">−</tspan><tspan x="0" y="0">900</tspan></text>
<text class="tk" transform="translate(293.9 825.2) scale(0.99 1.022)" text-anchor="end"><tspan x="-97.1" y="6.3" font-size="71.7px" stroke="#000" stroke-width="1.0" stroke-linejoin="round">−</tspan><tspan x="0" y="0">600</tspan></text>
<text class="tk" transform="translate(291.9 1207.7) scale(0.99 1.022)" text-anchor="end"><tspan x="-98.1" y="6.3" font-size="71.7px" stroke="#000" stroke-width="1.0" stroke-linejoin="round">−</tspan><tspan x="0" y="0">300</tspan></text>
<text class="tt" y="1808"><tspan x="1225.5" textLength="71.3" lengthAdjust="spacingAndGlyphs">Z</tspan><tspan x="1293.3">'</tspan><tspan x="1311.2"> (</tspan><tspan x="1372.4" stroke="#000" stroke-width="2.4" stroke-linejoin="round">Ω</tspan><tspan x="1446.1">)</tspan></text>
<text class="tt" transform="translate(98.6 947) rotate(-90)" y="0"><tspan x="-0.2" textLength="71.3" lengthAdjust="spacingAndGlyphs">Z</tspan><tspan x="67.4">''</tspan><tspan x="103.4"> (</tspan><tspan x="163.8" stroke="#000" stroke-width="2.4" stroke-linejoin="round">Ω</tspan><tspan x="237.9">)</tspan></text>
<g shape-rendering="crispEdges">
<path d="M1817.5 970.4H1868.4M1916.7 970.4H1968.5" stroke="#000000" stroke-width="3.2" stroke-linecap="round" fill="none"/>
<rect x="1875.0" y="952.9" width="35.0" height="34.0" fill="#000000"/>
<path d="M1817.5 1052.0H1868.4M1916.7 1052.0H1968.5" stroke="#FF0000" stroke-width="3.2" stroke-linecap="round" fill="none"/>
<circle cx="1892.5" cy="1051.5" r="19.6" fill="#FF0000"/>
<path d="M1817.5 1133.7H1868.4M1916.7 1133.7H1968.5" stroke="#D3D3D3" stroke-width="3.2" stroke-linecap="round" fill="none"/>
<path d="M1869.3 1146.4L1915.7 1146.4L1892.5 1106.8Z" fill="#D3D3D3"/>
<path d="M1817.5 1215.3H1868.4M1916.7 1215.3H1968.5" stroke="#0000FF" stroke-width="3.2" stroke-linecap="round" fill="none"/>
<path d="M1869.3 1201.6L1915.7 1201.6L1892.5 1241.2Z" fill="#0000FF"/>
<path d="M1817.5 1297.0H1868.4M1916.7 1297.0H1968.5" stroke="#00FFFF" stroke-width="3.2" stroke-linecap="round" fill="none"/>
<path d="M1868.0 1296.5L1892.5 1272.0L1917.0 1296.5L1892.5 1321.0Z" fill="#00FFFF"/>
<path d="M1817.5 1378.7H1868.4M1916.7 1378.7H1968.5" stroke="#FF00FF" stroke-width="3.2" stroke-linecap="round" fill="none"/>
<path d="M1905.9 1355.2L1905.9 1401.2L1865.7 1378.2Z" fill="#FF00FF"/>
<path d="M1817.5 1460.3H1868.4M1916.7 1460.3H1968.5" stroke="#FFFF00" stroke-width="3.2" stroke-linecap="round" fill="none"/>
<path d="M1879.1 1436.8L1879.1 1482.8L1919.3 1459.8Z" fill="#FFFF00"/>
</g>
<text class="tk" x="1985.0" y="992.2">GCE</text>
<text class="tk" x="1985.0" y="1073.8">SWNT</text>
<text class="tk" x="1985.0" y="1155.5">Pbase</text>
<text class="tk" x="1985.0" y="1237.1">Ca_sub</text>
<text class="tk" x="1985.0" y="1318.8">EA</text>
<text class="tk" x="1985.0" y="1400.5">Tween20</text>
<text class="tk" x="1985.0" y="1482.1">Cazyme</text>
</svg></body></html>
